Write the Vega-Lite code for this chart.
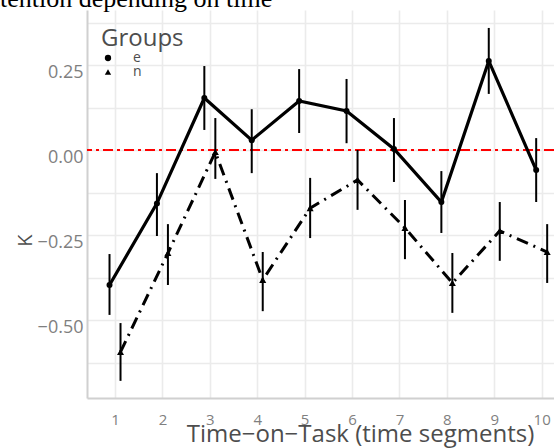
{
  "$schema": "https://vega.github.io/schema/vega-lite/v6.json",
  "autosize": "none",
  "width": 467,
  "height": 388,
  "padding": {"left": 87, "top": 10, "right": 0, "bottom": 50},
  "background": "white",
  "title": {
    "text": "Attention depending on time",
    "anchor": "start",
    "frame": "group",
    "font": "Liberation Serif",
    "fontSize": 26,
    "fontWeight": "normal",
    "color": "black",
    "baseline": "alphabetic",
    "offset": -23,
    "dy": 0,
    "dx": -113
  },
  "config": {
    "view": {"stroke": null},
    "font": "Open Sans",
    "axis": {
      "gridColor": "#ebebeb",
      "gridWidth": 1.6,
      "domainColor": "#d0d0d0",
      "domainWidth": 2,
      "ticks": false,
      "labelColor": "#7f7f7f",
      "titleColor": "#4d4d4d",
      "titleFontWeight": "normal",
      "labelFont": "Open Sans",
      "titleFont": "Open Sans"
    },
    "legend": {
      "title": "Groups",
      "orient": "none",
      "legendX": 14,
      "legendY": 17,
      "titleFontSize": 24,
      "titleColor": "#4d4d4d",
      "titleFontWeight": "normal",
      "titleFont": "Open Sans",
      "titlePadding": 0,
      "labelFontSize": 14,
      "labelColor": "#4d4d4d",
      "labelFont": "Open Sans",
      "labelOffset": 18,
      "rowPadding": 0,
      "symbolSize": 40,
      "symbolFillColor": "black",
      "symbolStrokeColor": "black"
    }
  },
  "data": {
    "values": [
      {"group": "e", "t": 1, "k": -0.397, "lo": -0.485, "hi": -0.306},
      {"group": "e", "t": 2, "k": -0.157, "lo": -0.253, "hi": -0.068},
      {"group": "e", "t": 3, "k": 0.153, "lo": 0.059, "hi": 0.247},
      {"group": "e", "t": 4, "k": 0.029, "lo": -0.068, "hi": 0.12},
      {"group": "e", "t": 5, "k": 0.144, "lo": 0.05, "hi": 0.238},
      {"group": "e", "t": 6, "k": 0.115, "lo": 0.02, "hi": 0.209},
      {"group": "e", "t": 7, "k": 0.003, "lo": -0.094, "hi": 0.094},
      {"group": "e", "t": 8, "k": -0.153, "lo": -0.244, "hi": -0.062},
      {"group": "e", "t": 9, "k": 0.262, "lo": 0.165, "hi": 0.359},
      {"group": "e", "t": 10, "k": -0.059, "lo": -0.153, "hi": 0.035},
      {"group": "n", "t": 1, "k": -0.594, "lo": -0.679, "hi": -0.509},
      {"group": "n", "t": 2, "k": -0.303, "lo": -0.397, "hi": -0.218},
      {"group": "n", "t": 3, "k": -0.006, "lo": -0.085, "hi": 0.094},
      {"group": "n", "t": 4, "k": -0.382, "lo": -0.474, "hi": -0.3},
      {"group": "n", "t": 5, "k": -0.171, "lo": -0.259, "hi": -0.082},
      {"group": "n", "t": 6, "k": -0.088, "lo": -0.176, "hi": 0.0},
      {"group": "n", "t": 7, "k": -0.229, "lo": -0.321, "hi": -0.147},
      {"group": "n", "t": 8, "k": -0.391, "lo": -0.479, "hi": -0.303},
      {"group": "n", "t": 9, "k": -0.238, "lo": -0.326, "hi": -0.153},
      {"group": "n", "t": 10, "k": -0.3, "lo": -0.391, "hi": -0.218}
    ]
  },
  "encoding": {
    "x": {
      "field": "t",
      "type": "quantitative",
      "scale": {"domain": [0.409, 10.26], "nice": false, "zero": false},
      "axis": {
        "values": [1, 2, 3, 4, 5, 6, 7, 8, 9, 10],
        "title": "Time−on−Task (time segments)",
        "labelFontSize": 15,
        "labelPadding": 14,
        "titleFontSize": 24,
        "titleX": 273,
        "titleY": 43,
        "titleAnchor": null,
        "titleAlign": "center",
        "titleBaseline": "alphabetic"
      }
    },
    "y": {
      "field": "k",
      "type": "quantitative",
      "scale": {"domain": [-0.7294, 0.4118], "nice": false, "zero": false},
      "axis": {
        "values": [-0.625, -0.5, -0.375, -0.25, -0.125, 0, 0.125, 0.25, 0.375],
        "labelExpr": "abs(datum.value*4 - round(datum.value*4)) < 0.01 ? replace(format(datum.value, '.2f'), '-', '−') : ''",
        "labelFontSize": 18,
        "labelPadding": 4,
        "labelBaseline": "middle",
        "labelOffset": 7,
        "title": "K",
        "titleFontSize": 20,
        "titleAngle": -90,
        "titleX": -62,
        "titleY": 230,
        "titleAlign": "center",
        "titleBaseline": "middle"
      }
    },
    "shape": {
      "field": "group", "type": "nominal",
      "scale": {"domain": ["e", "n"], "range": ["circle", "triangle-up"]},
      "legend": {"title": "Groups"}
    }
  },
  "layer": [
    {
      "mark": {"type": "rule", "color": "red", "strokeWidth": 1.5, "strokeDash": [10, 4, 3, 4]},
      "encoding": {"y": {"datum": 0}, "x": null, "shape": null}
    },
    {
      "transform": [{"filter": "datum.group == 'e'"}],
      "mark": {"type": "rule", "color": "black", "strokeWidth": 2, "xOffset": -5.5},
      "encoding": {"y": {"field": "lo", "type": "quantitative"}, "y2": {"field": "hi"}, "shape": null}
    },
    {
      "transform": [{"filter": "datum.group == 'n'"}],
      "mark": {"type": "rule", "color": "black", "strokeWidth": 2, "xOffset": 5.5},
      "encoding": {"y": {"field": "lo", "type": "quantitative"}, "y2": {"field": "hi"}, "shape": null}
    },
    {
      "transform": [{"filter": "datum.group == 'e'"}],
      "mark": {"type": "line", "color": "black", "strokeWidth": 3.2, "xOffset": -5.5},
      "encoding": {"shape": null}
    },
    {
      "transform": [{"filter": "datum.group == 'n'"}],
      "mark": {"type": "line", "color": "black", "strokeWidth": 3, "strokeDash": [12, 6, 2, 6], "xOffset": 5.5},
      "encoding": {"shape": null}
    },
    {
      "transform": [{"filter": "datum.group == 'e'"}],
      "mark": {"type": "point", "filled": true, "color": "black", "size": 36, "opacity": 1, "xOffset": -5.5}
    },
    {
      "transform": [{"filter": "datum.group == 'n'"}],
      "mark": {"type": "point", "filled": true, "color": "black", "size": 50, "opacity": 1, "xOffset": 5.5}
    }
  ]
}
